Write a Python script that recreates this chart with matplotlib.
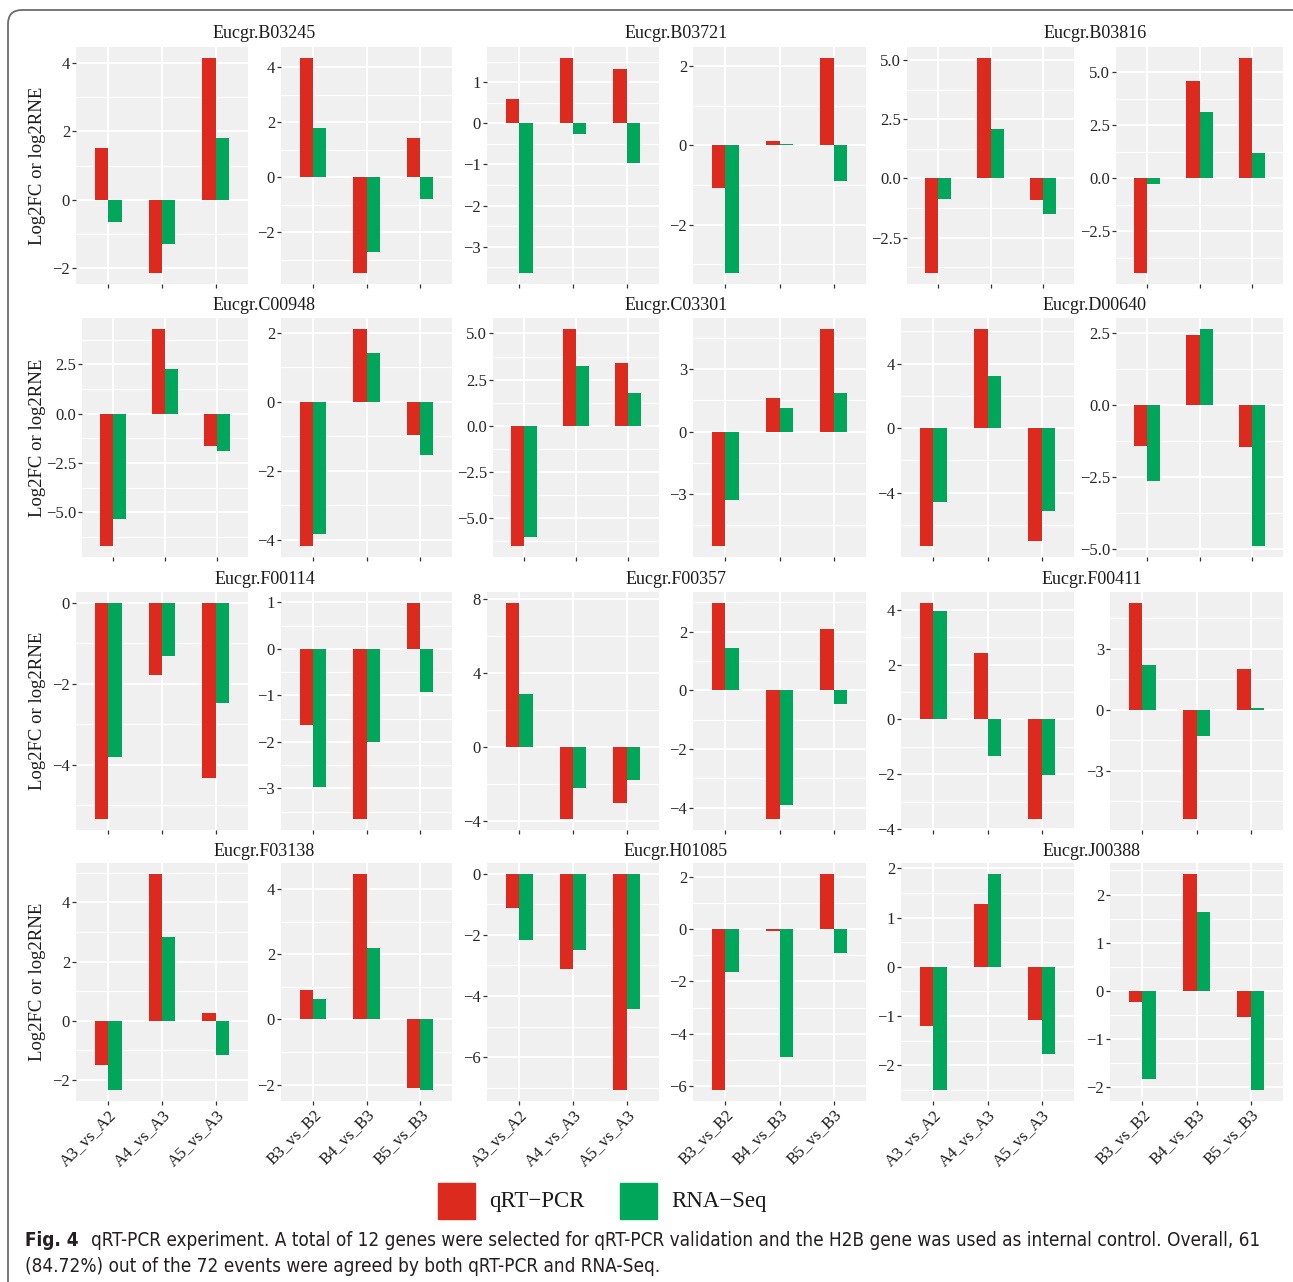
import numpy as np
import matplotlib
matplotlib.use("Agg")
import matplotlib.pyplot as plt
from matplotlib import font_manager
from matplotlib.font_manager import FontProperties
from matplotlib.patches import FancyBboxPatch, Rectangle
from matplotlib.transforms import IdentityTransform

# ---------------- data ----------------
genes = ["Eucgr.B03245", "Eucgr.B03721", "Eucgr.B03816",
         "Eucgr.C00948", "Eucgr.C03301", "Eucgr.D00640",
         "Eucgr.F00114", "Eucgr.F00357", "Eucgr.F00411",
         "Eucgr.F03138", "Eucgr.H01085", "Eucgr.J00388"]
comparisons_A = ["A3_vs_A2", "A4_vs_A3", "A5_vs_A3"]
comparisons_B = ["B3_vs_B2", "B4_vs_B3", "B5_vs_B3"]
series_names = ["qRT\u2212PCR", "RNA\u2212Seq"]

qpcr_A = [
    [1.51, -2.14, 4.14],
    [0.60, 1.60, 1.33],
    [-4.00, 5.09, -0.90],
    [-6.72, 4.30, -1.65],
    [-6.52, 5.25, 3.39],
    [-7.32, 6.16, -6.99],
    [-5.34, -1.77, -4.32],
    [7.77, -3.91, -3.05],
    [4.26, 2.42, -3.64],
    [-1.51, 4.97, 0.25],
    [-1.13, -3.10, -7.08],
    [-1.20, 1.28, -1.09]]
rnaseq_A = [
    [-0.64, -1.30, 1.80],
    [-3.65, -0.26, -0.96],
    [-0.87, 2.07, -1.50],
    [-5.34, 2.26, -1.87],
    [-6.03, 3.23, 1.76],
    [-4.60, 3.26, -5.13],
    [-3.81, -1.32, -2.48],
    [2.84, -2.25, -1.82],
    [3.97, -1.32, -2.04],
    [-2.35, 2.84, -1.17],
    [-2.15, -2.48, -4.43],
    [-2.51, 1.89, -1.78]]
qpcr_B = [
    [4.34, -3.49, 1.41],
    [-1.07, 0.10, 2.21],
    [-4.47, 4.59, 5.69],
    [-4.18, 2.11, -0.95],
    [-5.49, 1.62, 4.93],
    [-1.44, 2.42, -1.48],
    [-1.63, -3.66, 0.99],
    [2.98, -4.39, 2.09],
    [5.25, -5.38, 2.00],
    [0.89, 4.47, -2.10],
    [-6.17, -0.05, 2.13],
    [-0.22, 2.43, -0.55]]
rnaseq_B = [
    [1.77, -2.73, -0.78],
    [-3.23, 0.03, -0.90],
    [-0.25, 3.14, 1.19],
    [-3.84, 1.41, -1.53],
    [-3.28, 1.14, 1.86],
    [-2.66, 2.63, -4.91],
    [-2.97, -2.00, -0.92],
    [1.44, -3.91, -0.47],
    [2.20, -1.30, 0.08],
    [0.64, 2.20, -2.17],
    [-1.62, -4.90, -0.89],
    [-1.83, 1.64, -2.06]]

yticks_A = [
    [-2, 0, 2, 4],
    [-3, -2, -1, 0, 1],
    [-2.5, 0.0, 2.5, 5.0],
    [-5.0, -2.5, 0.0, 2.5],
    [-5.0, -2.5, 0.0, 2.5, 5.0],
    [-4, 0, 4],
    [-4, -2, 0],
    [-4, 0, 4, 8],
    [-4, -2, 0, 2, 4],
    [-2, 0, 2, 4],
    [-6, -4, -2, 0],
    [-2, -1, 0, 1, 2]]
yticks_B = [
    [-2, 0, 2, 4],
    [-2, 0, 2],
    [-2.5, 0.0, 2.5, 5.0],
    [-4, -2, 0, 2],
    [-3, 0, 3],
    [-5.0, -2.5, 0.0, 2.5],
    [-3, -2, -1, 0, 1],
    [-4, -2, 0, 2],
    [-3, 0, 3],
    [-2, 0, 2, 4],
    [-6, -4, -2, 0, 2],
    [-2, -1, 0, 1, 2]]

y_axis_title = "Log2FC or log2RNE"
caption_bold = "Fig. 4"
caption_line1 = ("qRT-PCR experiment. A total of 12 genes were selected for qRT-PCR validation "
                 "and the H2B gene was used as internal control. Overall, 61")
caption_line2 = "(84.72%) out of the 72 events were agreed by both qRT-PCR and RNA-Seq."

# ---------------- style / layout ----------------
RED = "#DD2A1E"
GREEN = "#00A65A"
PANEL_BG = "#F0F0F0"
SERIF = ["Liberation Serif", "DejaVu Serif"]
plt.rcParams["font.family"] = SERIF
plt.rcParams["axes.unicode_minus"] = True


def find_condensed(bold):
    best = None
    for f in font_manager.fontManager.ttflist:
        nm = f.name
        cond = ("Narrow" in nm or "Condensed" in nm or
                f.stretch in ("condensed", "semi-condensed"))
        if not cond or "Serif" in nm or "Mono" in nm or f.style != "normal":
            continue
        w = f.weight if isinstance(f.weight, int) else {"bold": 700, "normal": 400}.get(f.weight, 400)
        if bold and w >= 600 or (not bold and 350 <= w <= 450):
            if best is None or "Liberation" in nm:
                best = f
    if best is None:
        return FontProperties(family=["Open Sans", "DejaVu Sans"],
                              weight="bold" if bold else "normal")
    return FontProperties(fname=best.fname)


CAP_REG = find_condensed(False)
CAP_BOLD = find_condensed(True)

W, H = 1293, 1282
fig = plt.figure(figsize=(W / 100, H / 100), dpi=100)
fig.patch.set_facecolor("white")

col_left = [[76, 281, 487, 693, 907, 1116],
            [82, 281, 493, 693, 901, 1116],
            [76, 281, 487, 693, 901, 1110],
            [76, 281, 487, 693, 901, 1110]]
col_right = [248, 452, 659, 866, 1074, 1283]
row_top = [47, 318, 592, 863]
row_bot = [284, 557, 830, 1101]
title_y = [33, 305, 579, 851]
bar_w = 0.25
TICK_COL = "#262626"


def fmt(v, dec):
    s = ("%.1f" % v) if dec else ("%d" % int(round(v)))
    return s.replace("-", "\u2212")


def draw_panel(ax, cats, red_vals, green_vals, ticks, show_x):
    x = np.arange(len(cats))
    lo = min(0, min(red_vals), min(green_vals))
    hi = max(0, max(red_vals), max(green_vals))
    span = hi - lo
    ylo, yhi = lo - 0.05 * span, hi + 0.05 * span
    ax.set_facecolor(PANEL_BG)
    for s in ax.spines.values():
        s.set_visible(False)
    ax.set_xlim(-0.6, len(cats) - 0.4)
    ax.set_ylim(ylo, yhi)
    ax.bar(x - bar_w / 2, red_vals, width=bar_w, color=RED, zorder=3)
    ax.bar(x + bar_w / 2, green_vals, width=bar_w, color=GREEN, zorder=3)
    dec = any(abs(t - round(t)) > 1e-9 for t in ticks)
    tk = [t for t in ticks if ylo <= t <= yhi]
    ax.set_yticks(tk)
    ax.set_yticklabels([fmt(t, dec) for t in tk], family=SERIF)
    step = ticks[1] - ticks[0]
    minor = np.arange(ticks[0] - step / 2, ticks[-1] + step, step)
    minor = [m for m in minor if ylo <= m <= yhi]
    ax.set_yticks(minor, minor=True)
    ax.set_xticks(x)
    if show_x:
        ax.set_xticklabels(cats, rotation=45, ha="right", va="top",
                           rotation_mode="anchor", fontsize=13,
                           color="#1a1a1a", family=SERIF)
    else:
        ax.set_xticklabels([])
    ax.grid(which="major", color="white", lw=1.5, zorder=0)
    ax.grid(which="minor", axis="y", color="white", lw=0.9, zorder=0)
    ax.set_axisbelow(True)
    ax.tick_params(which="minor", length=0)
    ax.tick_params(which="major", length=2.8, width=0.9, color="#333333",
                   labelsize=12, pad=1.5)
    ax.tick_params(axis="y", labelcolor=TICK_COL)


for g, gene in enumerate(genes):
    r, c = divmod(g, 3)
    for k in range(2):
        col = c * 2 + k
        l, rr = col_left[r][col], col_right[col]
        t, b = row_top[r], row_bot[r]
        ax = fig.add_axes([l / W, 1 - b / H, (rr - l) / W, (b - t) / H])
        if k == 0:
            draw_panel(ax, comparisons_A, qpcr_A[g], rnaseq_A[g], yticks_A[g], r == 3)
        else:
            draw_panel(ax, comparisons_B, qpcr_B[g], rnaseq_B[g], yticks_B[g], r == 3)
    cx = (col_right[c * 2] + col_left[r][c * 2 + 1]) / 2
    fig.text(cx / W, 1 - title_y[r] / H, gene, ha="center", va="center",
             fontsize=13, color="#1a1a1a")

for r in range(4):
    cy = (row_top[r] + row_bot[r]) / 2
    fig.text(38 / W, 1 - cy / H, y_axis_title, rotation=90, ha="center",
             va="center", fontsize=13.5, color="#1a1a1a")

# legend
leg_y0, leg_y1 = 1183, 1219
for (x0, col, name, tx) in [(438, RED, series_names[0], 489),
                             (620, GREEN, series_names[1], 671)]:
    fig.add_artist(Rectangle((x0 / W, 1 - leg_y1 / H), 37 / W, (leg_y1 - leg_y0) / H,
                             transform=fig.transFigure, color=col))
    fig.text(tx / W, 1 - (leg_y0 + leg_y1) / 2 / H, name, ha="left", va="center",
             fontsize=16.5, color="#1a1a1a")

# caption (font size fitted so line 1 spans the same width as the reference)
fig.canvas.draw()
rend = fig.canvas.get_renderer()
x_start, x_end = 25, 1262
fs = 12.0
tb = fig.text(x_start / W, 1 - 1240 / H, caption_bold, fontproperties=CAP_BOLD,
              color="#231F20", va="center")
tr = fig.text(0, 1 - 1240 / H, caption_line1, fontproperties=CAP_REG,
              color="#231F20", va="center")
tb.set_fontsize(fs)
tr.set_fontsize(fs)
wb = tb.get_window_extent(rend).width
wr = tr.get_window_extent(rend).width
scale = (x_end - x_start) / (wb + wr + fs * 0.9)
fs2 = fs * scale
tb.set_fontsize(fs2)
tr.set_fontsize(fs2)
wb2 = tb.get_window_extent(rend).width
tr.set_x((x_start + wb2 + fs2 * 0.9) / W)
t2 = fig.text(x_start / W, 1 - 1266 / H, caption_line2, fontproperties=CAP_REG,
              color="#231F20", va="center")
t2.set_fontsize(fs2)

# rounded frame
fig.add_artist(FancyBboxPatch((8, -20), 1300, H - 10 + 20,
                              boxstyle="round,pad=0,rounding_size=14",
                              transform=IdentityTransform(), fill=False,
                              edgecolor="#6b6b6b", lw=1.3))

fig.savefig("out.png", dpi=100)
